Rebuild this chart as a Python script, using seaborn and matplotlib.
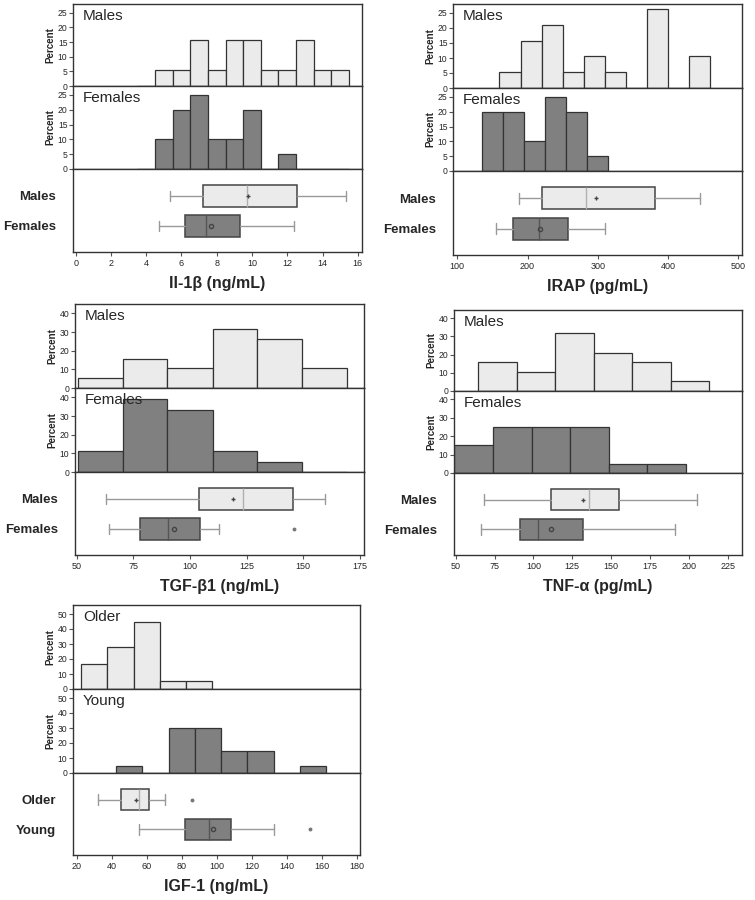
import numpy as np
import seaborn as sns
from matplotlib import pyplot as plt

# --- data ---
IL1B_EDGES = [3.5, 4.5, 5.5, 6.5, 7.5, 8.5, 9.5, 10.5, 11.5, 12.5, 13.5, 14.5, 15.5]
IL1B_MALES = [0, 5.3, 5.3, 15.8, 5.3, 15.8, 15.8, 5.3, 5.3, 15.8, 5.3, 5.3]
IL1B_FEMALES = [0, 10, 20, 25, 10, 10, 20, 0, 5, 0, 0, 0]
IL1B_BOX_MALES = [5.35, 7.2, 9.7, 12.55, 15.35, 9.8]  # whislo, q1, med, q3, whishi, mean
IL1B_BOX_FEMALES = [4.75, 6.2, 7.37, 9.3, 12.4, 7.7]

IRAP_EDGES_M = [160, 190, 220, 250, 280, 310, 340, 370, 400, 430, 460]
IRAP_MALES = [5.3, 15.8, 21.1, 5.3, 10.5, 5.3, 0, 26.3, 0, 10.5]
IRAP_EDGES_F = [135, 165, 195, 225, 255, 285, 315]
IRAP_FEMALES = [20, 20, 10, 25, 20, 5]
IRAP_BOX_MALES = [188, 221, 283, 381, 446, 298]
IRAP_BOX_FEMALES = [155, 179, 216, 257, 310, 218]

TGF_EDGES = [50.5, 70.3, 90.1, 110, 129.8, 149.6, 169.4]
TGF_MALES = [5.3, 15.8, 10.5, 31.6, 26.3, 10.5]
TGF_FEMALES = [11.1, 38.9, 33.3, 11.1, 5.6, 0]
TGF_BOX_MALES = [63, 104, 123.5, 145.5, 159.8, 119]
TGF_BOX_FEMALES = [64.5, 78, 90.5, 104.3, 113, 92.8]
TGF_OUT_FEMALES = [146]

TNF_EDGES_M = [64.5, 89.3, 114, 138.7, 163.5, 188.2, 213]
TNF_MALES = [15.8, 10.5, 31.6, 21.1, 15.8, 5.3]
TNF_EDGES_F = [49.2, 74.2, 99, 123.7, 148.5, 173.2, 198]
TNF_FEMALES = [15, 25, 25, 25, 5, 5]
TNF_BOX_MALES = [68, 111.5, 135.5, 155, 205, 132]
TNF_BOX_FEMALES = [66.5, 91.5, 103, 132, 191, 111]

IGF_EDGES_O = [22.5, 37.5, 52.5, 67.5, 82.5, 97.5]
IGF_OLDER = [16.7, 27.8, 44.4, 5.6, 5.6]
IGF_EDGES_Y = [42.5, 57.5, 72.5, 87.5, 102.5, 117.5, 132.5, 147.5, 162.5]
IGF_YOUNG = [5, 0, 30, 30, 15, 15, 0, 5]
IGF_BOX_OLDER = [32, 45.3, 55.8, 61.3, 70.7, 54]
IGF_BOX_YOUNG = [55.4, 82, 95.4, 108, 133, 97.7]
IGF_OUT_OLDER = [86]
IGF_OUT_YOUNG = [153.5]

LIGHT = "#ebebeb"
DARK = "#808080"
EDGE = "#333333"

W, H = 755, 900


def px_axes(fig, left, right, top, bottom):
    return fig.add_axes([left / W, 1 - bottom / H, (right - left) / W, (bottom - top) / H])


def hist(ax, edges, pct, color, label, xlim, ylim, yticks):
    centers = [(a + b) / 2 for a, b in zip(edges[:-1], edges[1:])]
    sns.histplot(x=centers, weights=pct, bins=edges, ax=ax, color=color,
                 edgecolor=EDGE, linewidth=0.9, alpha=1, legend=False)
    ax.set_xlim(*xlim)
    ax.set_ylim(0, ylim)
    ax.set_yticks(yticks)
    ax.set_xticks([])
    ax.set_ylabel("Percent", fontsize=7, fontweight="bold", labelpad=2)
    ax.tick_params(axis="y", left=True, labelsize=6.2, length=3, width=0.8,
                   pad=1, color="#555555")
    ax.text(0.035, 0.94, label, transform=ax.transAxes, fontsize=11, va="top")


def box(ax, stats, names, colors, outliers, xlim, xticks, xlabel):
    bxp_stats = []
    for s, n, o in zip(stats, names, outliers):
        bxp_stats.append(dict(whislo=s[0], q1=s[1], med=s[2], q3=s[3], whishi=s[4],
                              mean=s[5], fliers=o, label=n))
    parts = ax.bxp(bxp_stats, positions=[0, 1], widths=0.72, vert=False,
                   patch_artist=True, showmeans=True, showcaps=True,
                   boxprops=dict(edgecolor="#444444", linewidth=1.1),
                   whiskerprops=dict(color="#999999", linewidth=1),
                   capprops=dict(color="#999999", linewidth=1),
                   medianprops=dict(color="#555555", linewidth=1),
                   flierprops=dict(marker="o", markersize=1.8, markerfacecolor="#777777",
                                   markeredgecolor="#777777"),
                   meanprops=dict(marker="+", markersize=3, markeredgecolor="#444444"))
    for patch, c in zip(parts["boxes"], colors):
        patch.set_facecolor(c)
    parts["means"][1].set_marker("o")
    parts["means"][1].set_markerfacecolor("none")
    parts["means"][1].set_markersize(3)
    parts["medians"][0].set_color("#b0b0b0")
    ax.set_ylim(1.87, -0.9)
    ax.set_xlim(*xlim)
    ax.set_xticks(xticks)
    ax.tick_params(axis="y", length=0, pad=12, labelsize=9.5)
    for t in ax.get_yticklabels():
        t.set_fontweight("bold")
    ax.tick_params(axis="x", bottom=True, labelsize=6.5, length=3, width=0.8,
                   pad=2, color="#555555")
    ax.set_xlabel(xlabel, fontsize=11.5, fontweight="bold", labelpad=6)


def panel(fig, box_px, hist1, hist2, stats, names, outliers, xlim, xticks, ylim, yticks, xlabel):
    left, right, top, b1, b2, bottom = box_px
    ax1 = px_axes(fig, left, right, top, b1)
    ax2 = px_axes(fig, left, right, b1, b2)
    ax3 = px_axes(fig, left, right, b2, bottom)
    hist(ax1, hist1[0], hist1[1], LIGHT, names[0], xlim, ylim, yticks)
    hist(ax2, hist2[0], hist2[1], DARK, names[1], xlim, ylim, yticks)
    box(ax3, stats, names, [LIGHT, DARK], outliers, xlim, xticks, xlabel)
    for ax in (ax1, ax2, ax3):
        for sp in ax.spines.values():
            sp.set_color("#333333")
            sp.set_linewidth(1)


def main() -> None:
    sns.set_style("white")
    plt.rcParams["font.family"] = ["Liberation Sans", "DejaVu Sans"]
    fig = plt.figure(figsize=(W / 100, H / 100), dpi=100)

    panel(fig, (73, 362, 4, 86, 169, 252),
          (IL1B_EDGES, IL1B_MALES), (IL1B_EDGES, IL1B_FEMALES),
          [IL1B_BOX_MALES, IL1B_BOX_FEMALES], ["Males", "Females"], [[], []],
          (-0.15, 16.24), np.arange(0, 17, 2), 28, [0, 5, 10, 15, 20, 25],
          "Il-1β (ng/mL)")
    panel(fig, (453, 742, 4, 88, 171, 255),
          (IRAP_EDGES_M, IRAP_MALES), (IRAP_EDGES_F, IRAP_FEMALES),
          [IRAP_BOX_MALES, IRAP_BOX_FEMALES], ["Males", "Females"], [[], []],
          (93.9, 505.3), np.arange(100, 501, 100), 28, [0, 5, 10, 15, 20, 25],
          "IRAP (pg/mL)")
    panel(fig, (75, 364, 304, 388, 472, 555),
          (TGF_EDGES, TGF_MALES), (TGF_EDGES, TGF_FEMALES),
          [TGF_BOX_MALES, TGF_BOX_FEMALES], ["Males", "Females"], [[], TGF_OUT_FEMALES],
          (49.3, 176.8), np.arange(50, 176, 25), 45, [0, 10, 20, 30, 40],
          "TGF-β1 (ng/mL)")
    panel(fig, (454, 742, 310, 391, 473, 555),
          (TNF_EDGES_M, TNF_MALES), (TNF_EDGES_F, TNF_FEMALES),
          [TNF_BOX_MALES, TNF_BOX_FEMALES], ["Males", "Females"], [[], []],
          (48.9, 234.2), np.arange(50, 226, 25), 44.5, [0, 10, 20, 30, 40],
          "TNF-α (pg/mL)")
    panel(fig, (73, 360, 605, 689, 773, 855),
          (IGF_EDGES_O, IGF_OLDER), (IGF_EDGES_Y, IGF_YOUNG),
          [IGF_BOX_OLDER, IGF_BOX_YOUNG], ["Older", "Young"], [IGF_OUT_OLDER, IGF_OUT_YOUNG],
          (17.9, 181.9), np.arange(20, 181, 20), 56, [0, 10, 20, 30, 40, 50],
          "IGF-1 (ng/mL)")

    fig.savefig("out.png", dpi=100)


if __name__ == "__main__":
    main()
